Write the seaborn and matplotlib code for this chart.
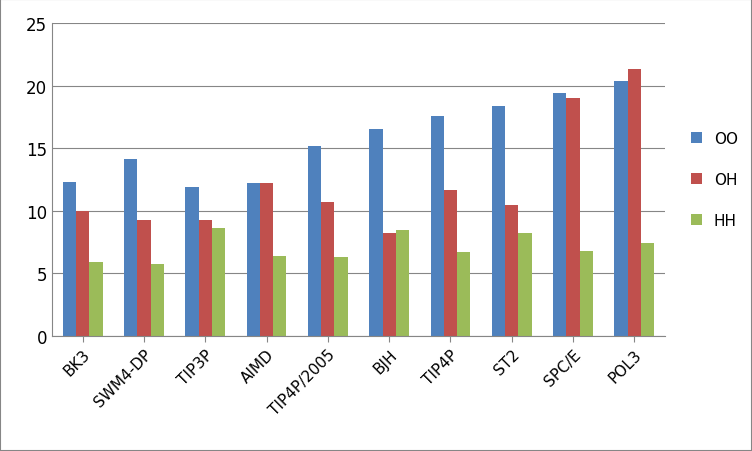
import pandas as pd
import matplotlib.pyplot as plt
import seaborn as sns

models = ["BK3", "SWM4-DP", "TIP3P", "AIMD", "TIP4P/2005", "BJH", "TIP4P", "ST2", "SPC/E", "POL3"]
oo = [12.3, 14.1, 11.9, 12.2, 15.2, 16.5, 17.6, 18.4, 19.4, 20.4]
oh = [10.0, 9.3, 9.3, 12.2, 10.7, 8.2, 11.7, 10.5, 19.0, 21.3]
hh = [5.9, 5.75, 8.6, 6.4, 6.3, 8.5, 6.7, 8.2, 6.8, 7.4]

df = pd.DataFrame({"model": models, "OO": oo, "OH": oh, "HH": hh})
df = df.melt(id_vars="model", var_name="pair", value_name="val")

fig = plt.figure(figsize=(7.52, 4.52), dpi=100)
ax = fig.add_axes([52 / 752, 1 - 337 / 452, 613 / 752, 313 / 452])
sns.barplot(data=df, x="model", y="val", hue="pair", ax=ax,
            palette=["#4F81BD", "#C0504D", "#9BBB59"], width=0.65, saturation=1)
ax.set_ylim(0, 25)
ax.set_yticks(range(0, 26, 5))
ax.yaxis.grid(True, color="#868686", linewidth=0.8)
ax.set_axisbelow(True)
ax.set_xlabel("")
ax.set_ylabel("")
for s in ["top", "right"]:
    ax.spines[s].set_visible(False)
ax.spines["left"].set_color("#868686")
ax.spines["bottom"].set_color("#868686")
ax.tick_params(axis="y", length=0, labelsize=12)
ax.tick_params(axis="x", labelsize=11, length=4, color="#868686")
plt.setp(ax.get_xticklabels(), rotation=45, ha="right", rotation_mode="anchor")
ax.legend(loc="center left", bbox_to_anchor=(1.02, 0.5), frameon=False,
          fontsize=11, handlelength=0.7, handleheight=0.7, labelspacing=1.7)
fig.patches.append(plt.Rectangle((0, 0), 1, 1, transform=fig.transFigure,
                                 fill=False, edgecolor="#868686", linewidth=1.5))
fig.savefig("out.png", dpi=100)
